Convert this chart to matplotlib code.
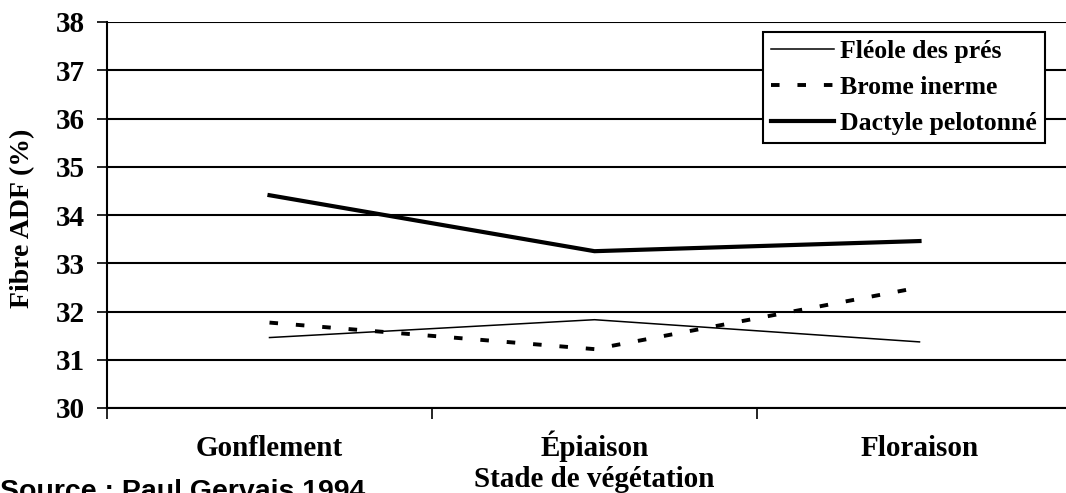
import matplotlib
matplotlib.use("Agg")
import matplotlib.pyplot as plt

# data
stades = ["Gonflement", "Épiaison", "Floraison"]
fleole = [31.46, 31.83, 31.37]
brome = [31.77, 31.22, 32.50]
dactyle = [34.41, 33.25, 33.46]
y_ticks = [30, 31, 32, 33, 34, 35, 36, 37, 38]

serif = ["Liberation Serif", "DejaVu Serif"]
W, H = 1066, 493

fig = plt.figure(figsize=(W / 100, H / 100), dpi=100)
# axes runs a bit past the right edge, like the original crop
ax = fig.add_axes([107 / W, 85 / H, 975 / W, 386 / H])

x = list(range(len(stades)))
ax.plot(x, fleole, color="black", lw=1.1, label="Fléole des prés", zorder=3)
ax.plot(x, brome, color="black", lw=2.8, dashes=(2.2, 4.6),
        dash_capstyle="butt", label="Brome inerme", zorder=3)
ax.plot(x, dactyle, color="black", lw=3.0, label="Dactyle pelotonné", zorder=3)

ax.set_xlim(-0.5, 2.5)
ax.set_ylim(30, 38)
ax.set_yticks(y_ticks)
ax.yaxis.grid(True, color="black", lw=1.5)
ax.set_axisbelow(True)

# ticks between categories, labels centred on categories
ax.set_xticks([-0.5, 0.5, 1.5, 2.5])
ax.set_xticklabels([])
ax.set_xticks(x, minor=True)
ax.set_xticklabels(stades, minor=True, fontfamily=serif, fontweight="bold",
                   fontsize=21, va="baseline")
ax.tick_params(axis="x", which="major", direction="out", length=8, width=1.2)
ax.tick_params(axis="x", which="minor", length=0, pad=34.5)
ax.tick_params(axis="y", direction="out", length=7, width=1.2, pad=9)
for lab in ax.get_yticklabels():
    lab.set_fontfamily(serif)
    lab.set_fontweight("bold")
    lab.set_fontsize(21)

for side in ["top", "right"]:
    ax.spines[side].set_visible(False)
for side in ["left", "bottom"]:
    ax.spines[side].set_linewidth(1.5)

fig.text(23 / W, 1 - 218 / H, "Fibre ADF (%)", fontfamily=serif,
         fontweight="bold", fontsize=20, rotation=90, ha="center", va="center")
fig.text(594 / W, 1 - 487 / H, "Stade de végétation", fontfamily=serif,
         fontweight="bold", fontsize=21, ha="center", va="baseline")

leg = ax.legend(loc="upper right", bbox_to_anchor=(0.962, 0.974),
                prop={"family": serif, "weight": "bold", "size": 18.5},
                frameon=True, fancybox=False, edgecolor="black",
                framealpha=1, handlelength=2.45, handletextpad=0.25,
                labelspacing=0.52, borderpad=0.3, borderaxespad=0)
leg.get_frame().set_linewidth(1.5)

fig.text(0.0, 1 - 479 / H, "Source : Paul Gervais 1994",
         fontfamily="Liberation Sans", fontweight="bold", fontsize=20.5,
         ha="left", va="top")

fig.savefig("out.png", dpi=100)
